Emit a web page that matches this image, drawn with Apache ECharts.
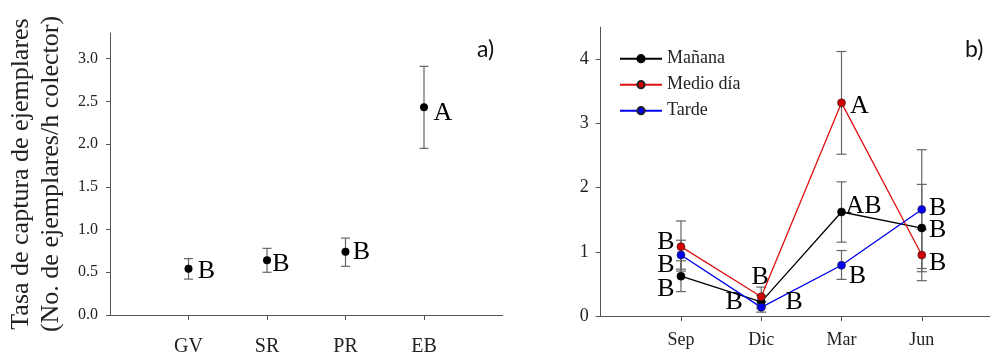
<!DOCTYPE html>
<html>
<head>
<meta charset="utf-8">
<script src="https://cdn.jsdelivr.net/npm/echarts@6/dist/echarts.min.js"></script>
<style>html,body{margin:0;padding:0;background:#fff;}#c{width:990px;height:356px;}</style>
</head>
<body>
<div id="c"></div>
<script>
// ---- Panel a) data ----
const sites = ['GV', 'SR', 'PR', 'EB'];
const siteMean = [0.54, 0.64, 0.74, 2.43];
const siteLow = [0.42, 0.50, 0.57, 1.95];
const siteHigh = [0.66, 0.78, 0.90, 2.91];
const siteLetters = ['B', 'B', 'B', 'A'];
const siteTicks = [0, 0.5, 1.0, 1.5, 2.0, 2.5, 3.0];

// ---- Panel b) data ----
const months = ['Sep', 'Dic', 'Mar', 'Jun'];
const seriesNames = ['Mañana', 'Medio día', 'Tarde'];
const mananaMean = [0.62, 0.22, 1.62, 1.37];
const mananaLow = [0.38, 0.12, 1.15, 0.69];
const mananaHigh = [0.86, 0.32, 2.09, 2.05];
const mananaLetters = ['B', 'B', 'AB', 'B'];
const medioMean = [1.08, 0.30, 3.32, 0.95];
const medioLow = [0.70, 0.15, 2.52, 0.55];
const medioHigh = [1.48, 0.45, 4.12, 1.35];
const medioLetters = ['B', 'B', 'A', 'B'];
const tardeMean = [0.95, 0.135, 0.79, 1.66];
const tardeLow = [0.73, 0.06, 0.57, 0.74];
const tardeHigh = [1.18, 0.22, 1.02, 2.59];
const tardeLetters = ['B', 'B', 'B', 'B'];
const monthTicks = [0, 1, 2, 3, 4];

// ---- styling (label offsets etc.) ----
const serif = '"Liberation Serif", "Times New Roman", serif';
const axisColor = '#555';
const textColor = '#222';
const siteLabelOffsets = [[18, 2], [14, 4], [16, 0], [19, 6]];
const mananaOffsets = [[-15, 13], [-27, 0], [22, -6], [16, 2]];
const medioOffsets = [[-15, -4], [-1, -20], [18, 3], [16, 8]];
const tardeOffsets = [[-15, 10], [33, -5], [16, 11], [16, -1]];

const chart = echarts.init(document.getElementById('c'), null, {renderer: 'canvas'});

function errRender(capHalf) {
  return function (params, api) {
    const x = api.value(0);
    const lo = api.coord([x, api.value(1)]);
    const hi = api.coord([x, api.value(2)]);
    const st = {stroke: '#666', lineWidth: 1.2};
    return {
      type: 'group',
      children: [
        {type: 'line', shape: {x1: lo[0], y1: lo[1], x2: hi[0], y2: hi[1]}, style: st},
        {type: 'line', shape: {x1: lo[0] - capHalf, y1: lo[1], x2: lo[0] + capHalf, y2: lo[1]}, style: st},
        {type: 'line', shape: {x1: hi[0] - capHalf, y1: hi[1], x2: hi[0] + capHalf, y2: hi[1]}, style: st}
      ]
    };
  };
}

function errData(lo, hi) {
  return lo.map((v, i) => [i + 1, v, hi[i]]);
}

function pointData(mean, letters, offsets) {
  return mean.map((v, i) => ({
    value: [i + 1, v],
    label: {formatter: letters[i], offset: offsets[i]}
  }));
}

const letterLabel = {
  show: true, position: 'inside', fontFamily: serif, fontSize: 26, color: '#000'
};

function lineSeries(name, mean, letters, offsets, color, fill, idx) {
  return {
    type: 'line', name: name, xAxisIndex: 1, yAxisIndex: 1,
    data: pointData(mean, letters, offsets),
    symbol: 'circle', symbolSize: 8,
    lineStyle: {color: color, width: 1.3},
    itemStyle: {color: fill, borderColor: color === '#000000' ? '#000' : '#222', borderWidth: 0.6},
    label: letterLabel,
    z: 5 + idx, animation: false
  };
}

const option = {
  animation: false,
  backgroundColor: '#fff',
  grid: [
    {left: 110, top: 33, width: 392.5, height: 282, outerBoundsMode: 'none', containLabel: false},
    {left: 600.7, top: 27.1, width: 389.3, height: 288.9, outerBoundsMode: 'none', containLabel: false}
  ],
  xAxis: [
    {
      type: 'value', gridIndex: 0, min: 0, max: 5,
      axisLine: {show: true, onZero: false, lineStyle: {color: axisColor, width: 1}},
      axisTick: {show: true, customValues: [1, 2, 3, 4], length: 5, lineStyle: {color: axisColor}},
      axisLabel: {customValues: [1, 2, 3, 4], formatter: v => sites[Math.round(v) - 1] || '',
        fontFamily: serif, fontSize: 20, color: textColor, margin: 22},
      splitLine: {show: false}
    },
    {
      type: 'value', gridIndex: 1, min: 0, max: 4.85,
      axisLine: {show: true, onZero: false, lineStyle: {color: axisColor, width: 1}},
      axisTick: {show: true, customValues: [1, 2, 3, 4], length: 5, lineStyle: {color: axisColor}},
      axisLabel: {customValues: [1, 2, 3, 4], formatter: v => months[Math.round(v) - 1] || '',
        fontFamily: serif, fontSize: 18, color: textColor, margin: 15},
      splitLine: {show: false}
    }
  ],
  yAxis: [
    {
      type: 'value', gridIndex: 0, min: 0, max: 3.3,
      name: 'Tasa de captura de ejemplares\n(No. de ejemplares/h colector)',
      nameLocation: 'middle', nameRotate: 90, nameGap: 44,
      nameTextStyle: {fontFamily: serif, fontSize: 26, color: textColor, lineHeight: 30},
      axisLine: {show: true, onZero: false, lineStyle: {color: axisColor, width: 1}},
      axisTick: {show: true, customValues: siteTicks, length: 4, lineStyle: {color: axisColor}},
      axisLabel: {customValues: siteTicks, formatter: v => v.toFixed(1),
        fontFamily: serif, fontSize: 16, color: textColor, margin: 12},
      splitLine: {show: false}
    },
    {
      type: 'value', gridIndex: 1, min: 0, max: 4.5,
      axisLine: {show: true, onZero: false, lineStyle: {color: axisColor, width: 1}},
      axisTick: {show: true, customValues: monthTicks, length: 5, lineStyle: {color: axisColor}},
      axisLabel: {customValues: monthTicks, formatter: v => String(v),
        fontFamily: serif, fontSize: 18, color: textColor, margin: 12},
      splitLine: {show: false}
    }
  ],
  legend: {
    orient: 'vertical', left: 614, top: 44.7,
    itemWidth: 42, itemHeight: 9, itemGap: 8,
    data: seriesNames,
    textStyle: {fontFamily: serif, fontSize: 18, color: textColor, lineHeight: 14}
  },
  graphic: [
    {type: 'text', left: 477, top: 38, style: {text: 'a)', font: '23px Lato, "Open Sans", sans-serif', fill: '#111'}},
    {type: 'text', left: 965, top: 38, style: {text: 'b)', font: '23px Lato, "Open Sans", sans-serif', fill: '#111'}}
  ],
  series: [
    {type: 'custom', xAxisIndex: 0, yAxisIndex: 0, renderItem: errRender(4.5),
      data: errData(siteLow, siteHigh), z: 2, silent: true},
    {type: 'scatter', xAxisIndex: 0, yAxisIndex: 0, symbol: 'circle', symbolSize: 8,
      itemStyle: {color: '#000', opacity: 1}, data: pointData(siteMean, siteLetters, siteLabelOffsets),
      label: letterLabel, z: 5},
    {type: 'custom', xAxisIndex: 1, yAxisIndex: 1, renderItem: errRender(5),
      data: errData(mananaLow, mananaHigh), z: 2, silent: true},
    {type: 'custom', xAxisIndex: 1, yAxisIndex: 1, renderItem: errRender(5),
      data: errData(medioLow, medioHigh), z: 2, silent: true},
    {type: 'custom', xAxisIndex: 1, yAxisIndex: 1, renderItem: errRender(5),
      data: errData(tardeLow, tardeHigh), z: 2, silent: true},
    lineSeries('Mañana', mananaMean, mananaLetters, mananaOffsets, '#000000', '#000000', 0),
    lineSeries('Medio día', medioMean, medioLetters, medioOffsets, '#e01010', '#d00000', 1),
    lineSeries('Tarde', tardeMean, tardeLetters, tardeOffsets, '#0000ee', '#0000ee', 2)
  ]
};
chart.setOption(option);
</script>
</body>
</html>
